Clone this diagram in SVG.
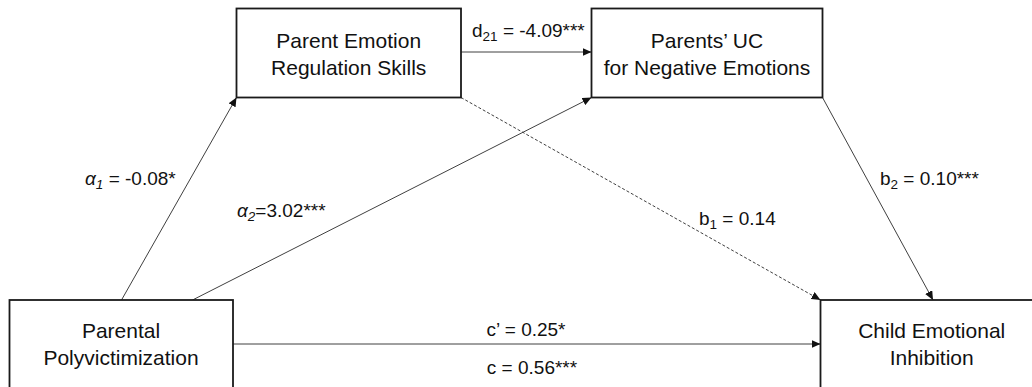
<svg xmlns="http://www.w3.org/2000/svg" width="1032" height="387" viewBox="0 0 1032 387">
<style>
.box{fill:#fff;stroke:#1a1a1a;stroke-width:1.8}
.t{font-family:"Liberation Sans",Arial,sans-serif;font-size:21px;fill:#111;text-anchor:middle}
.l{font-family:"Liberation Sans",Arial,sans-serif;font-size:19px;fill:#111}
.e{stroke:#404040;stroke-width:1;fill:none}
.d{stroke-dasharray:3,2}
.it{font-style:italic}
.s{font-size:13.5px}
</style>
<defs>
<marker id="ah" markerUnits="userSpaceOnUse" markerWidth="10" markerHeight="8" refX="9" refY="4" orient="auto">
<path d="M0,0 L9,4 L0,8 z" fill="#111"/>
</marker>
</defs>
<rect width="1032" height="387" fill="#fff"/>
<g id="connectors">
<line class="e" x1="121.5" y1="300" x2="236.5" y2="97.5" marker-end="url(#ah)"/>
<line class="e" x1="192.5" y1="300" x2="591.5" y2="97.5" marker-end="url(#ah)"/>
<line class="e" x1="461" y1="52" x2="591.5" y2="52" marker-end="url(#ah)"/>
<line class="e d" x1="461" y1="97.5" x2="820.5" y2="300" marker-end="url(#ah)"/>
<line class="e" x1="822.5" y1="97.5" x2="933" y2="300" marker-end="url(#ah)"/>
<line class="e" x1="233" y1="344" x2="820.5" y2="344" marker-end="url(#ah)"/>
</g>
<g id="labels">
<text class="l" x="85" y="185"><tspan class="it">α</tspan><tspan class="it s" dy="4">1</tspan><tspan dy="-4"> = -0.08*</tspan></text>
<text class="l" x="237" y="217"><tspan class="it">α</tspan><tspan class="it s" dy="4">2</tspan><tspan dy="-4">=3.02***</tspan></text>
<text class="l" x="472" y="37">d<tspan class="s" dy="4">21</tspan><tspan dy="-4"> = -4.09***</tspan></text>
<text class="l" x="699" y="225">b<tspan class="s" dy="4">1</tspan><tspan dy="-4"> = 0.14</tspan></text>
<text class="l" x="880" y="185">b<tspan class="s" dy="4">2</tspan><tspan dy="-4"> = 0.10***</tspan></text>
<text class="l" x="526" y="336" text-anchor="middle">c’ = 0.25*</text>
<text class="l" x="532" y="374" text-anchor="middle">c = 0.56***</text>
</g>
<g id="node-emotion-regulation">
<rect class="box" x="236.5" y="8.5" width="224.5" height="89"/>
<text class="t" x="348.7" y="47.5">Parent Emotion</text>
<text class="t" x="348.7" y="75">Regulation Skills</text>
</g>
<g id="node-parents-uc">
<rect class="box" x="591.5" y="8.5" width="231" height="89"/>
<text class="t" x="707" y="47.5">Parents’ UC</text>
<text class="t" x="707" y="75">for Negative Emotions</text>
</g>
<g id="node-polyvictimization">
<rect class="box" x="9.5" y="300" width="223.5" height="89"/>
<text class="t" x="121" y="338">Parental</text>
<text class="t" x="121" y="365">Polyvictimization</text>
</g>
<g id="node-child-inhibition">
<rect class="box" x="820.5" y="300" width="222" height="89"/>
<text class="t" x="931.7" y="338">Child Emotional</text>
<text class="t" x="931.7" y="365">Inhibition</text>
</g>
</svg>
